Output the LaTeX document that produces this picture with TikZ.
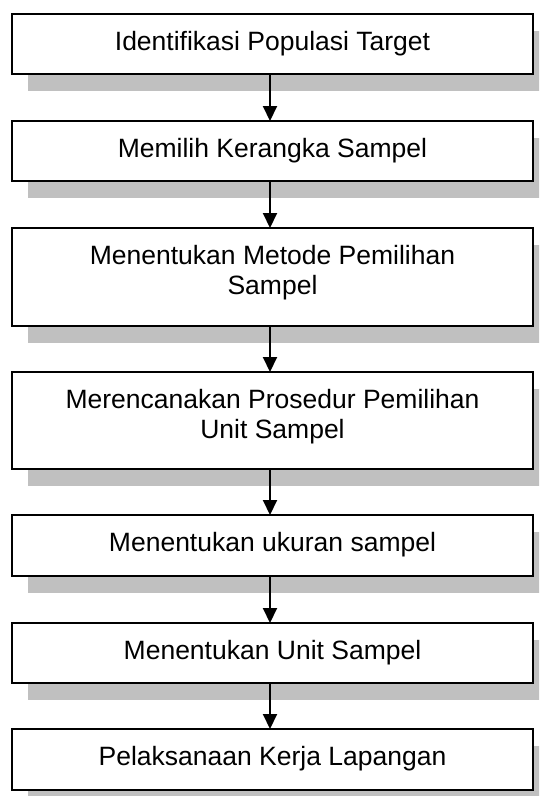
\documentclass[tikz,border=0pt]{standalone}
\usepackage{fontspec}
\setmainfont{Liberation Sans}
\usetikzlibrary{arrows.meta,shadows}
\definecolor{shadowgray}{RGB}{192,192,192}
\begin{document}
\begin{tikzpicture}[x=1pt,y=-1pt,
  stepbox/.style={draw=black, line width=2pt, fill=white, rectangle,
    minimum width=521pt, inner sep=0pt, outer sep=0pt,
    drop shadow={shadow xshift=16pt, shadow yshift=-17pt, fill=shadowgray, opacity=1}},
  txt/.style={font=\fontsize{26.5}{30}\selectfont, align=center, anchor=north, inner sep=0pt},
  arr/.style={line width=2pt, -{Triangle[width=14pt,length=15pt]}}]
\useasboundingbox (0,0) rectangle (539,796);
\clip (0,0) rectangle (539,796);
\node[stepbox, minimum height=60pt] (b1) at (272.5,44) {};
\node[stepbox, minimum height=60pt] (b2) at (272.5,151) {};
\node[stepbox, minimum height=98pt] (b3) at (272.5,277) {};
\node[stepbox, minimum height=97pt] (b4) at (272.5,420.5) {};
\node[stepbox, minimum height=61pt] (b5) at (272.5,545.5) {};
\node[stepbox, minimum height=60pt] (b6) at (272.5,653) {};
\node[stepbox, minimum height=61pt] (b7) at (272.5,759.5) {};
\node[txt] (t1) at (272.5,29) {\strut Identifikasi Populasi Target};
\node[txt] (t2) at (272.5,136) {\strut Memilih Kerangka Sampel};
\node[txt] (t3) at (272.5,243) {\strut Menentukan Metode Pemilihan\\Sampel};
\node[txt] (t4) at (272.5,387) {\strut Merencanakan Prosedur Pemilihan\\Unit Sampel};
\node[txt] (t5) at (272.5,530) {\strut Menentukan ukuran sampel};
\node[txt] (t6) at (272.5,638) {\strut Menentukan Unit Sampel};
\node[txt] (t7) at (272.5,744) {\strut Pelaksanaan Kerja Lapangan};
\draw[arr] ([xshift=-2.5pt]b1.south) -- ([xshift=-2.5pt]b2.north);
\draw[arr] ([xshift=-2.5pt]b2.south) -- ([xshift=-2.5pt]b3.north);
\draw[arr] ([xshift=-2.5pt]b3.south) -- ([xshift=-2.5pt]b4.north);
\draw[arr] ([xshift=-2.5pt]b4.south) -- ([xshift=-2.5pt]b5.north);
\draw[arr] ([xshift=-2.5pt]b5.south) -- ([xshift=-2.5pt]b6.north);
\draw[arr] ([xshift=-2.5pt]b6.south) -- ([xshift=-2.5pt]b7.north);
\end{tikzpicture}
\end{document}
